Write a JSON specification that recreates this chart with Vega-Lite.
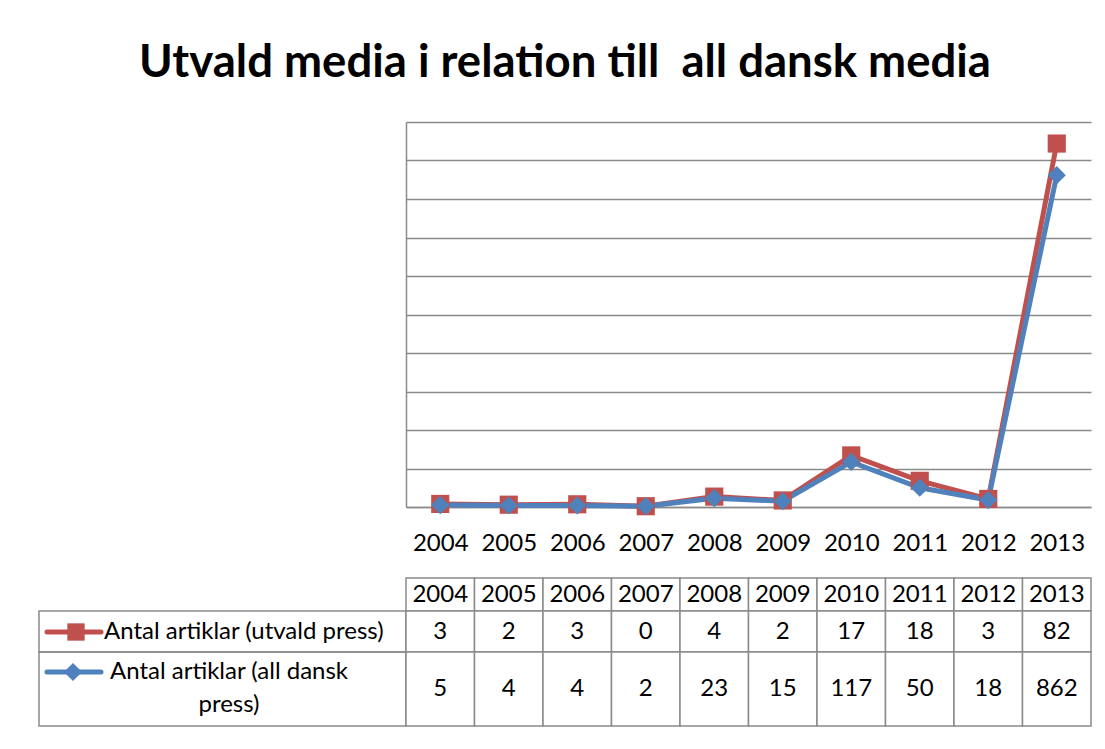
{
  "$schema": "https://vega.github.io/schema/vega-lite/v6.json",
  "background": "white",
  "padding": {"left": 38, "top": 40, "right": 15, "bottom": 20},
  "config": {"view": {"stroke": null}, "font": "Lato", "text": {"font": "Lato"}},
  "title": {"text": "Utvald media i relation till \u00a0all dansk media", "fontSize": 45.5, "fontWeight": "bold", "font": "Lato", "color": "black", "anchor": "middle", "offset": 36},
  "datasets": {
    "d": [
      {"year": "2004", "series": "Antal artiklar (utvald press)", "value": 3},
      {"year": "2005", "series": "Antal artiklar (utvald press)", "value": 2},
      {"year": "2006", "series": "Antal artiklar (utvald press)", "value": 3},
      {"year": "2007", "series": "Antal artiklar (utvald press)", "value": 0},
      {"year": "2008", "series": "Antal artiklar (utvald press)", "value": 4},
      {"year": "2009", "series": "Antal artiklar (utvald press)", "value": 2},
      {"year": "2010", "series": "Antal artiklar (utvald press)", "value": 17},
      {"year": "2011", "series": "Antal artiklar (utvald press)", "value": 18},
      {"year": "2012", "series": "Antal artiklar (utvald press)", "value": 3},
      {"year": "2013", "series": "Antal artiklar (utvald press)", "value": 82},
      {"year": "2004", "series": "Antal artiklar (all dansk press)", "value": 5},
      {"year": "2005", "series": "Antal artiklar (all dansk press)", "value": 4},
      {"year": "2006", "series": "Antal artiklar (all dansk press)", "value": 4},
      {"year": "2007", "series": "Antal artiklar (all dansk press)", "value": 2},
      {"year": "2008", "series": "Antal artiklar (all dansk press)", "value": 23},
      {"year": "2009", "series": "Antal artiklar (all dansk press)", "value": 15},
      {"year": "2010", "series": "Antal artiklar (all dansk press)", "value": 117},
      {"year": "2011", "series": "Antal artiklar (all dansk press)", "value": 50},
      {"year": "2012", "series": "Antal artiklar (all dansk press)", "value": 18},
      {"year": "2013", "series": "Antal artiklar (all dansk press)", "value": 862}
    ]
  },
  "columns": 2,
  "align": "each",
  "bounds": "flush",
  "spacing": 0,
  "concat": [
    {
      "width": 367, "height": 385,
      "data": {"values": [{}]},
      "mark": {"type": "text", "text": ""},
      "encoding": {}
    },
    {
      "width": 685, "height": 385,
      "data": {"name": "d"},
      "transform": [
        {"stack": "value", "groupby": ["year"], "sort": [{"field": "series", "order": "ascending"}], "as": ["v0", "v1"]}
      ],
      "encoding": {
        "x": {"field": "year", "type": "ordinal", "scale": {"type": "point", "padding": 0.5},
              "axis": {"title": null, "labelAngle": 0, "labelFontSize": 24, "labelFont": "Lato", "labelColor": "black", "ticks": false, "labelPadding": 24, "domainColor": "#8a8a8a", "domainWidth": 1.5}},
        "y": {"field": "v1", "type": "quantitative", "stack": null, "scale": {"domain": [0, 1000], "nice": false},
              "axis": {"title": null, "labels": false, "ticks": false, "values": [0, 100, 200, 300, 400, 500, 600, 700, 800, 900, 1000], "grid": true, "gridColor": "#8a8a8a", "gridWidth": 1.5, "domainColor": "#8a8a8a", "domainWidth": 1.5}},
        "color": {"field": "series", "type": "nominal",
                  "scale": {"domain": ["Antal artiklar (all dansk press)", "Antal artiklar (utvald press)"], "range": ["#4F81BD", "#C0504D"]},
                  "legend": null}
      },
      "layer": [
        {"mark": {"type": "line", "strokeWidth": 5}},
        {"mark": {"type": "point", "filled": true, "opacity": 1, "size": 330},
         "encoding": {"shape": {"field": "series", "type": "nominal",
                                "scale": {"domain": ["Antal artiklar (all dansk press)", "Antal artiklar (utvald press)"], "range": ["diamond", "square"]},
                                "legend": null}}}
      ]
    },
    {
      "width": 367, "height": 71,
      "data": {"values": [{}]},
      "mark": {"type": "text", "text": ""},
      "encoding": {}
    },
    {
      "width": 685, "height": 71,
      "data": {"values": [{}]},
      "mark": {"type": "text", "text": ""},
      "encoding": {}
    },
    {
      "width": 367, "height": 33,
      "data": {"values": [{}]},
      "mark": {"type": "text", "text": ""},
      "encoding": {}
    },
    {
      "width": 685, "height": 33,
      "data": {"name": "d"},
      "transform": [{"filter": "datum.series === 'Antal artiklar (utvald press)'"}],
      "encoding": {"x": {"field": "year", "type": "ordinal", "scale": {"paddingInner": 0, "paddingOuter": 0}, "axis": null}},
      "layer": [
        {"mark": {"type": "rect", "fill": "white", "stroke": "#8a8a8a", "strokeWidth": 1.5}},
        {"mark": {"type": "text", "fontSize": 24, "color": "black", "baseline": "middle", "font": "Lato"}, "encoding": {"text": {"field": "year"}}}
      ]
    },
    {
      "width": 367, "height": 41,
      "view": {"stroke": "#8a8a8a", "strokeWidth": 1.5},
      "data": {"values": [{"series": "Antal artiklar (utvald press)"}]},
      "layer": [
        {"mark": {"type": "rule", "strokeWidth": 5, "strokeCap": "round", "color": "#C0504D"},
         "encoding": {"x": {"value": 8}, "x2": {"value": 62}, "y": {"value": 21}}},
        {"mark": {"type": "point", "shape": "square", "filled": true, "opacity": 1, "size": 300, "color": "#C0504D"},
         "encoding": {"x": {"value": 37}, "y": {"value": 21}}},
        {"mark": {"type": "text", "align": "left", "baseline": "middle", "fontSize": 24, "color": "black", "font": "Lato"},
         "encoding": {"x": {"value": 65}, "y": {"value": 21}, "text": {"field": "series"}}}
      ]
    },
    {
      "width": 685, "height": 41,
      "data": {"name": "d"},
      "transform": [{"filter": "datum.series === 'Antal artiklar (utvald press)'"}],
      "encoding": {"x": {"field": "year", "type": "ordinal", "scale": {"paddingInner": 0, "paddingOuter": 0}, "axis": null}},
      "layer": [
        {"mark": {"type": "rect", "fill": "white", "stroke": "#8a8a8a", "strokeWidth": 1.5}},
        {"mark": {"type": "text", "fontSize": 24, "color": "black", "baseline": "middle", "font": "Lato"}, "encoding": {"text": {"field": "value"}}}
      ]
    },
    {
      "width": 367, "height": 74,
      "view": {"stroke": "#8a8a8a", "strokeWidth": 1.5},
      "data": {"values": [{"series": "Antal artiklar (all dansk press)"}]},
      "layer": [
        {"mark": {"type": "rule", "strokeWidth": 5, "strokeCap": "round", "color": "#4F81BD"},
         "encoding": {"x": {"value": 8}, "x2": {"value": 62}, "y": {"value": 20}}},
        {"mark": {"type": "point", "shape": "diamond", "filled": true, "opacity": 1, "size": 330, "color": "#4F81BD"},
         "encoding": {"x": {"value": 34}, "y": {"value": 20}}},
        {"mark": {"type": "text", "align": "center", "baseline": "middle", "fontSize": 24, "lineHeight": 33, "color": "black", "font": "Lato", "text": ["Antal artiklar (all dansk", "press)"]},
         "encoding": {"x": {"value": 190}, "y": {"value": 20}}}
      ]
    },
    {
      "width": 685, "height": 74,
      "data": {"name": "d"},
      "transform": [{"filter": "datum.series === 'Antal artiklar (all dansk press)'"}],
      "encoding": {"x": {"field": "year", "type": "ordinal", "scale": {"paddingInner": 0, "paddingOuter": 0}, "axis": null}},
      "layer": [
        {"mark": {"type": "rect", "fill": "white", "stroke": "#8a8a8a", "strokeWidth": 1.5}},
        {"mark": {"type": "text", "fontSize": 24, "color": "black", "baseline": "middle", "font": "Lato"}, "encoding": {"text": {"field": "value"}}}
      ]
    }
  ]
}
